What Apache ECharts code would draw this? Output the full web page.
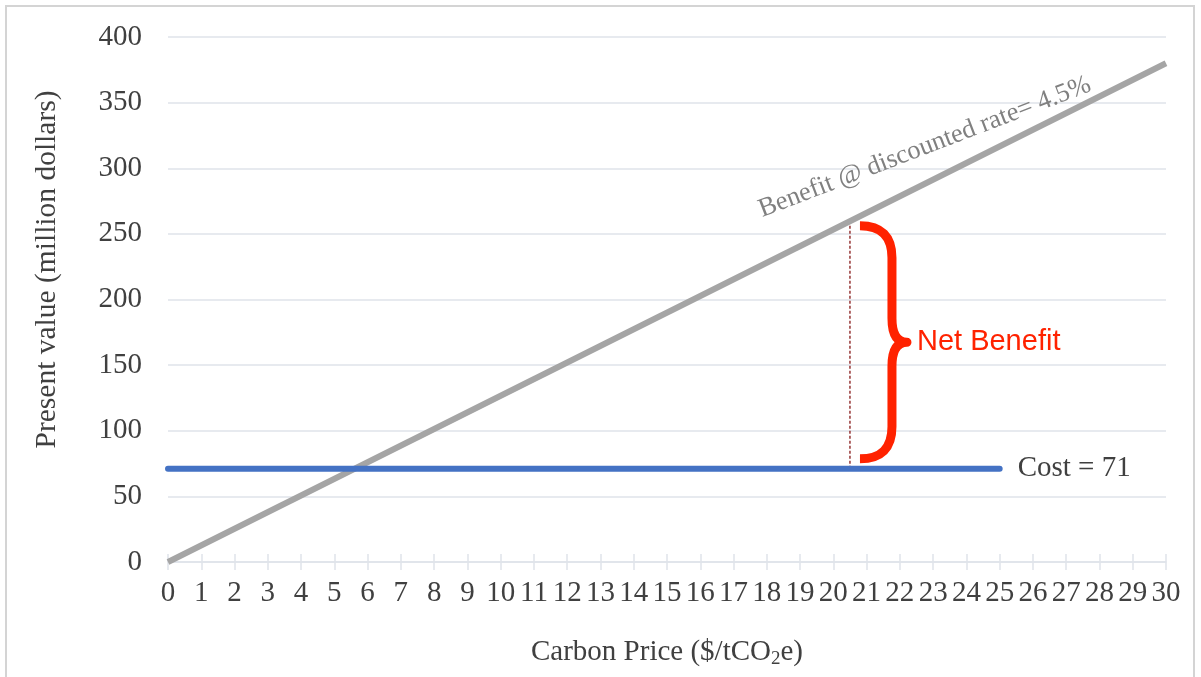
<!DOCTYPE html>
<html>
<head>
<meta charset="utf-8">
<title>Carbon price vs present value</title>
<script src="https://cdn.jsdelivr.net/npm/echarts@6/dist/echarts.min.js"></script>
<style>
  html, body { margin: 0; padding: 0; background: #fff; }
  #frame {
    position: absolute; left: 5px; top: 5px; width: 1190px; height: 700px;
    border: 2px solid #d4d4d4; border-bottom: none; box-sizing: border-box;
  }
  #chart { position: absolute; left: 0; top: 0; width: 1201px; height: 677px; }
</style>
</head>
<body>
<div id="frame"></div>
<div id="chart"></div>
<script>
// carbon price ($/tCO2e) and present value (million dollars)
const benefitX = [0, 30];
const benefitY = [0, 380];
const costX = [0, 25];
const costY = [71, 71];
// net benefit marker at a carbon price of ~20.5
const netX = 20.5;
const netRange = [71, 260];
// where the rotated benefit label sits
const benefitLabelAt = [22.75, 316];
const benefitLabel = "Benefit @ discounted rate= 4.5%";
const costLabel = "Cost = 71";

const serif = "'Liberation Serif', 'Times New Roman', serif";
const textGrey = "#404040";
const gridGrey = "#dfe3ea";

var myChart = echarts.init(document.getElementById("chart"));

var option = {
  animation: false,
  grid: { left: 168, right: 35, top: 37, bottom: 115 },
  xAxis: [
    {
      type: "value",
      min: 0,
      max: 30,
      interval: 1,
      name: "Carbon Price ($/tCO{sub|2}e)",
      nameLocation: "middle",
      nameGap: 73,
      nameTextStyle: {
        fontFamily: serif,
        fontSize: 29,
        color: textGrey,
        lineHeight: 34,
        rich: {
          sub: { fontFamily: serif, fontSize: 19, lineHeight: 19, color: textGrey, verticalAlign: "bottom" },
        },
      },
      axisLine: { show: true, lineStyle: { color: gridGrey, width: 1.5 } },
      axisTick: { show: true, length: 8, lineStyle: { color: gridGrey, width: 1.5 } },
      axisLabel: { fontFamily: serif, fontSize: 29, color: textGrey, margin: 17 },
      splitLine: { show: false },
    },
    {
      // second copy only for the ticks that cross above the axis
      type: "value",
      position: "bottom",
      min: 0,
      max: 30,
      interval: 1,
      axisLine: { show: false },
      axisTick: { show: true, inside: true, length: 8, lineStyle: { color: gridGrey, width: 1.5 } },
      axisLabel: { show: false },
      splitLine: { show: false },
    },
  ],
  yAxis: {
    type: "value",
    min: 0,
    max: 400,
    interval: 50,
    name: "Present value (million dollars)",
    nameLocation: "middle",
    nameGap: 106,
    // left padding nudges the rotated title up a little, as in the original
    nameTextStyle: { fontFamily: serif, fontSize: 29.5, color: textGrey, padding: [0, 0, 0, 60] },
    axisLine: { show: false },
    axisTick: { show: false },
    axisLabel: { fontFamily: serif, fontSize: 29, color: textGrey, margin: 26 },
    splitLine: { lineStyle: { color: gridGrey, width: 1.5 } },
  },
  series: [
    {
      name: "Benefit",
      type: "line",
      data: benefitX.map((x, i) => [x, benefitY[i]]),
      symbol: "none",
      lineStyle: { color: "#a5a5a5", width: 6 },
      z: 3,
    },
    {
      name: "Cost",
      type: "line",
      data: costX.map((x, i) => [x, costY[i]]),
      symbol: "none",
      lineStyle: { color: "#4472c4", width: 6, cap: "round" },
      endLabel: {
        show: true,
        formatter: costLabel,
        fontFamily: serif,
        fontSize: 29,
        color: textGrey,
        distance: 18,
      },
      z: 4,
    },
    {
      name: "Gap",
      type: "line",
      data: [[netX, netRange[0]], [netX, netRange[1]]],
      symbol: "none",
      lineStyle: { color: "#7a0000", width: 1.2, type: [3, 2] },
      z: 2,
    },
    {
      // curly brace and "Net Benefit" note
      name: "Brace",
      type: "custom",
      data: [[netX, netRange[0], netRange[1]]],
      renderItem: function (params, api) {
        const top = api.coord([api.value(0), api.value(2)]);
        const bot = api.coord([api.value(0), api.value(1)]);
        const lx = top[0] + 10, sx = top[0] + 42, tx = top[0] + 57;
        const y0 = top[1] + 5, y1 = bot[1] - 10, ym = (y0 + y1) / 2;
        const d =
          "M" + lx + " " + y0 +
          " Q" + sx + " " + y0 + " " + sx + " " + (y0 + 32) +
          " L" + sx + " " + (ym - 24) +
          " Q" + sx + " " + ym + " " + tx + " " + ym +
          " Q" + sx + " " + ym + " " + sx + " " + (ym + 24) +
          " L" + sx + " " + (y1 - 32) +
          " Q" + sx + " " + y1 + " " + lx + " " + y1;
        return {
          type: "group",
          children: [
            {
              type: "path",
              shape: { pathData: d },
              style: { fill: "none", stroke: "#ff2200", lineWidth: 9, lineCap: "butt", lineJoin: "round" },
            },
            {
              type: "text",
              x: tx + 10,
              y: ym,
              style: {
                text: "Net Benefit",
                fontFamily: "'Liberation Sans', Arial, sans-serif",
                fontSize: 29,
                fill: "#ff2200",
                textAlign: "left",
                textVerticalAlign: "middle",
              },
            },
          ],
        };
      },
      z: 5,
    },
    {
      name: "BenefitLabel",
      type: "custom",
      data: [benefitLabelAt],
      renderItem: function (params, api) {
        const p = api.coord([api.value(0), api.value(1)]);
        return {
          type: "text",
          x: p[0],
          y: p[1],
          rotation: (21 * Math.PI) / 180,
          style: {
            text: benefitLabel,
            fontFamily: serif,
            fontSize: 26.5,
            fill: "#808080",
            textAlign: "center",
            textVerticalAlign: "middle",
          },
        };
      },
      z: 5,
    },
  ],
};

myChart.setOption(option);
</script>
</body>
</html>
